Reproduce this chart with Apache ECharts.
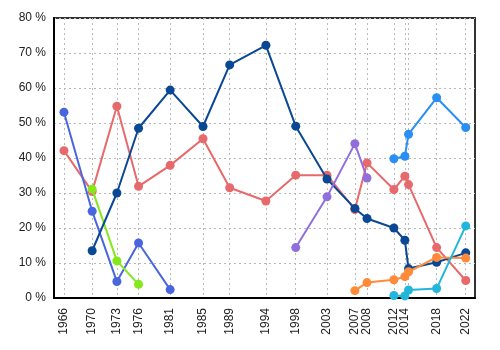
<!DOCTYPE html>
<html><head><meta charset="utf-8">
<script src="https://cdn.jsdelivr.net/npm/echarts@6/dist/echarts.min.js"></script>
<style>html,body{margin:0;padding:0;background:#fff}#c{width:500px;height:350px}</style>
</head><body><div id="c"></div>
<script>
// election dates (decimal years) and their tick labels
const dates = [1966.5, 1970.43, 1973.88, 1976.9, 1981.31, 1985.89, 1989.61, 1994.66, 1998.82, 2003.18, 2007.07, 2008.76, 2012.51, 2014.04, 2014.55, 2018.47, 2022.53];
const tickLabels = ['1966','1970','1973','1976','1981','1985','1989','1994','1998','2003','2007','2008','2012','2014','','2018','2022'];
const yTicks = [0,10,20,30,40,50,60,70,80];

const salmon = [42.1, 30.4, 54.8, 31.9, 37.9, 45.5, 31.5, 27.7, 35.1, 35.1, 25.3, 38.6, 31.0, 34.8, 32.4, 14.4, 5.0];
const royal  = [53.1, 24.8, 4.7, 15.7, 2.4, null, null, null, null, null, null, null, null, null, null, null, null];
const lime   = [null, 31.1, 10.6, 3.9, null, null, null, null, null, null, null, null, null, null, null, null, null];
const navy   = [null, 13.5, 30.0, 48.5, 59.4, 49.0, 66.6, 72.2, 49.1, 34.0, 25.6, 22.7, 20.0, 16.5, 8.4, 10.2, 12.9];
const purple = [null, null, null, null, null, null, null, null, 14.4, 28.9, 44.1, 34.3, null, null, null, null, null];
const dodger = [null, null, null, null, null, null, null, null, null, null, null, null, 39.8, 40.5, 46.8, 57.2, 48.7];
const orange = [null, null, null, null, null, null, null, null, null, null, 2.1, 4.4, 5.2, 6.1, 7.5, 11.6, 11.4];
const cyan   = [null, null, null, null, null, null, null, null, null, null, null, null, 0.7, 0.6, 2.3, 2.7, 20.6];

const seriesDefs = [
  {name:'salmon', data:salmon, color:'#e8696b'},
  {name:'royal', data:royal, color:'#4a66de'},
  {name:'lime', data:lime, color:'#84e81a'},
  {name:'navy', data:navy, color:'#0b4894'},
  {name:'purple', data:purple, color:'#906fdc'},
  {name:'dodger', data:dodger, color:'#2a8ef2'},
  {name:'orange', data:orange, color:'#ff8a3a'},
  {name:'cyan', data:cyan, color:'#22b6dc'}
];

const font = 'Liberation Sans, Arial, sans-serif';
const chart = echarts.init(document.getElementById('c'), null, {renderer:'canvas'});
chart.setOption({
  animation:false,
  grid:{left:54, right:25, top:18, bottom:52, show:true, borderColor:'#333', borderWidth:2, backgroundColor:'transparent'},
  xAxis:{
    type:'value', min:1965.11, max:2023.82,
    axisLine:{show:true, onZero:false, lineStyle:{color:'#000', width:2}},
    axisTick:{show:false, customValues:dates},
    axisLabel:{customValues:dates, rotate:90, margin:10, fontSize:12, color:'#222', fontFamily:font,
      formatter:function(v){ let best=0,d=1e9; dates.forEach((x,i)=>{const dd=Math.abs(x-v); if(dd<d){d=dd;best=i;}}); return tickLabels[best]; }},
    splitLine:{show:true, lineStyle:{color:'#b8b8b8', width:1, type:[2,3]}}
  },
  yAxis:{
    type:'value', min:0, max:80, interval:10,
    axisLine:{show:true, lineStyle:{color:'#000', width:2}},
    axisTick:{show:false},
    axisLabel:{fontSize:12, color:'#222', fontFamily:font, margin:8, formatter:function(v){return v+' %';}},
    splitLine:{show:true, lineStyle:{color:'#b8b8b8', width:1, type:[2,3]}}
  },
  series: seriesDefs.map((s,k)=>({
    name:s.name, type:'line', z:2+k,
    data:s.data.map((v,i)=>[dates[i], v]),
    connectNulls:false,
    symbol:'circle', symbolSize:9, showAllSymbol:true,
    itemStyle:{color:s.color},
    lineStyle:{color:s.color, width:2}
  }))
});
</script></body></html>
